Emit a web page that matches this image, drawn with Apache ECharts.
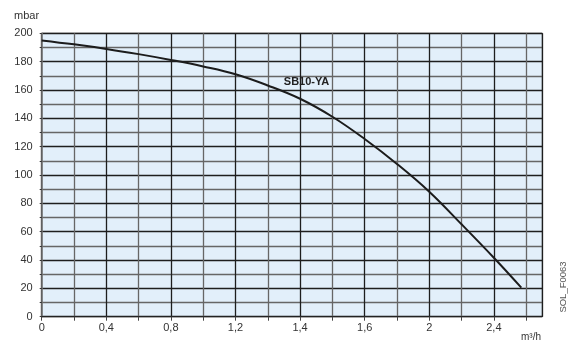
<!DOCTYPE html>
<html>
<head>
<meta charset="utf-8">
<script src="https://cdn.jsdelivr.net/npm/echarts@6/dist/echarts.min.js"></script>
<style>
html,body{margin:0;padding:0;background:#fff;}
#c{width:571px;height:345px;}
</style>
</head>
<body>
<div id="c"></div>
<script>
// Flow positions (uniform grid units, 0.2 per grid cell) and pressure (mbar)
var flowPos = [0, 0.2, 0.4, 0.6, 0.8, 1.0, 1.2, 1.4, 1.6, 1.8, 2.0, 2.2, 2.4, 2.6, 2.8, 2.97];
var pressure = [195, 192.2, 189, 185.3, 181.2, 176.6, 171.1, 163.2, 153.8, 141.1, 125.4, 107.8, 88.2, 65.2, 41.6, 20.5];
// Tick labels as printed on the original x axis (one every two grid cells)
var xTickLabels = ['0', '0,4', '0,8', '1,2', '1,4', '1,6', '2', '2,4'];
var seriesName = 'SB10-YA';
var yUnit = 'mbar';
var xUnit = 'm³/h';
var refCode = 'SOL_F0063';

var chart = echarts.init(document.getElementById('c'), null, {renderer: 'canvas'});
var font = '"Liberation Sans", Arial, sans-serif';
var data = flowPos.map(function (x, i) { return [x, pressure[i]]; });

chart.setOption({
  animation: false,
  textStyle: {fontFamily: font},
  grid: {
    left: 41.7, right: 28.7, top: 33.3, bottom: 28.3,
    show: true, backgroundColor: '#e2effa', borderColor: '#3a3a3a', borderWidth: 1
  },
  xAxis: {
    type: 'value', min: 0, max: 3.1, interval: 0.2,
    axisLine: {lineStyle: {color: '#222', width: 1}},
    axisTick: {show: true, length: 4, lineStyle: {color: '#444'}},
    axisLabel: {
      color: '#333', fontSize: 11, margin: 6, showMaxLabel: false,
      formatter: function (v) {
        var k = v / 0.4;
        var r = Math.round(k);
        if (Math.abs(k - r) < 1e-6 && r < xTickLabels.length) return xTickLabels[r];
        return '';
      }
    },
    splitLine: {show: true, lineStyle: {color: ['#1e1e1e', '#666666'], width: 1.3}}
  },
  yAxis: {
    type: 'value', min: 0, max: 200, interval: 10,
    axisLine: {show: true, lineStyle: {color: '#777', width: 1.5}},
    axisTick: {show: true, length: 2, lineStyle: {color: '#333'}},
    axisLabel: {
      color: '#333', fontSize: 11, margin: 9,
      formatter: function (v) { return v % 20 === 0 ? String(v) : ''; }
    },
    splitLine: {show: true, lineStyle: {color: ['#1e1e1e', '#666666'], width: 1.3}}
  },
  series: [{
    name: seriesName,
    type: 'line',
    data: data,
    smooth: 0.4,
    symbol: 'none',
    lineStyle: {color: '#1c1c1c', width: 2},
    markPoint: {
      symbol: 'circle', symbolSize: 0,
      data: [{coord: [1.64, 165.4]}],
      label: {show: true, position: 'inside', formatter: seriesName,
        color: '#222', fontSize: 11, fontWeight: 'bold', fontFamily: font}
    }
  }],
  graphic: [
    {type: 'text', left: 14, top: 10, style: {text: yUnit, font: '11px ' + font, fill: '#333'}},
    {type: 'text', left: 521, top: 332, style: {text: xUnit, font: '10px ' + font, fill: '#333'}},
    {type: 'text', x: 563, y: 287, rotation: Math.PI / 2,
      style: {text: refCode, font: '9.5px ' + font, fill: '#555', align: 'center', verticalAlign: 'middle'}}
  ]
});
</script>
</body>
</html>
